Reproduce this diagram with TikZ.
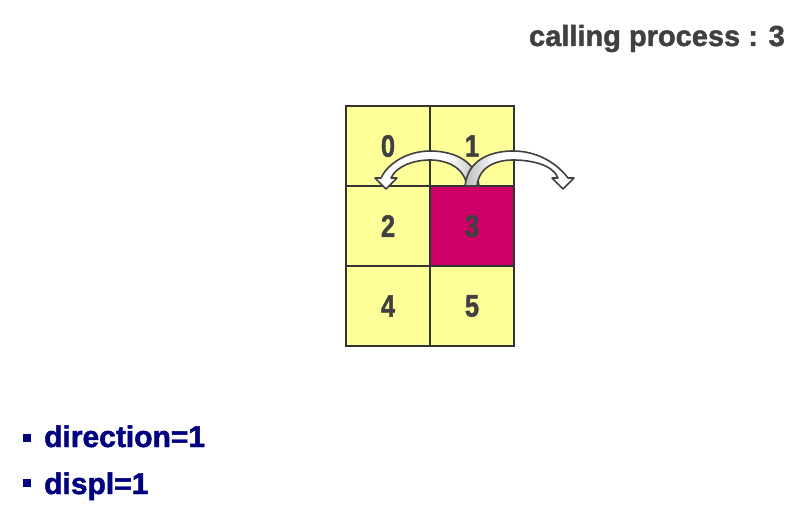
\documentclass[tikz,border=0pt]{standalone}
\usepackage{fontspec}
\setmainfont{Liberation Sans}
\newfontfamily\heavyfont[FakeBold=1.6]{Liberation Sans Bold}
\usetikzlibrary{positioning}
\definecolor{cellyellow}{HTML}{FFFF99}
\definecolor{cellmag}{HTML}{CC0066}
\definecolor{gridline}{HTML}{333333}
\definecolor{txtgray}{HTML}{404040}
\definecolor{navy}{HTML}{000080}
\begin{document}
\begin{tikzpicture}[x=1pt,y=-1pt,
  cell/.style={draw=gridline,line width=2.2pt,fill=cellyellow,minimum width=84pt,minimum height=80pt,inner sep=0pt,
    font=\fontsize{31}{31}\heavyfont,text=txtgray},
  hot/.style={cell,fill=cellmag},
  title/.style={font=\fontsize{29}{30}\heavyfont,text=txtgray,inner sep=0pt},
  item/.style={font=\fontsize{30}{32}\heavyfont,text=navy,inner sep=0pt},
  bullet/.style={fill=navy,minimum size=8pt,inner sep=0pt},
  bandline/.style={draw=txtgray,line width=1.6pt,line join=round}]
\useasboundingbox (0,0) rectangle (810,521);
% grid cells
\node[cell] (c0) at (388,146) {\scalebox{0.82}[1]{0}};
\node[cell] (c1) at (472,146) {\scalebox{0.82}[1]{1}};
\node[cell] (c2) at (388,226) {\scalebox{0.82}[1]{2}};
\node[hot]  (c3) at (472,226) {\scalebox{0.82}[1]{3}};
\node[cell] (c4) at (388,306) {\scalebox{0.82}[1]{4}};
\node[cell] (c5) at (472,306) {\scalebox{0.82}[1]{5}};
% left curved block arrow
\def\leftarr{(479,186) .. controls (476,157) and (448,151) .. (430,151)
  .. controls (408,151) and (388,163) .. (381,178)
  -- (375,178) -- (386,189) -- (397,178) -- (391,178)
  .. controls (396,167) and (412,160) .. (430,160)
  .. controls (445,160) and (464,166) .. (467,186) -- cycle}
\def\rightarr{(465,186) .. controls (468,157) and (495,151) .. (513,151)
  .. controls (535,151) and (555,161) .. (568,178)
  -- (574,178) -- (563,189) -- (552,178) -- (558,178)
  .. controls (553,165) and (532,160) .. (513,160)
  .. controls (497,160) and (479,166) .. (477,186) -- cycle}
\fill[white] \leftarr;
\begin{scope}
  \clip \leftarr;
  \shade[left color=white,right color=gray!55] (448,145) rectangle (480,190);
\end{scope}
\draw[bandline] \leftarr;
\fill[white] \rightarr;
\begin{scope}
  \clip \rightarr;
  \shade[right color=white,left color=gray!55] (464,145) rectangle (496,190);
\end{scope}
\draw[bandline] \rightarr;
% texts
\node[title,anchor=base east] (t) at (785,46) {calling process : 3};
\node[bullet] (b1) at (27,438) {};
\node[item,anchor=base west] (d1) at (44,447) {direction=1};
\node[bullet] (b2) at (27,483) {};
\node[item,anchor=base west] (d2) at (44,494) {displ=1};
\end{tikzpicture}
\end{document}
